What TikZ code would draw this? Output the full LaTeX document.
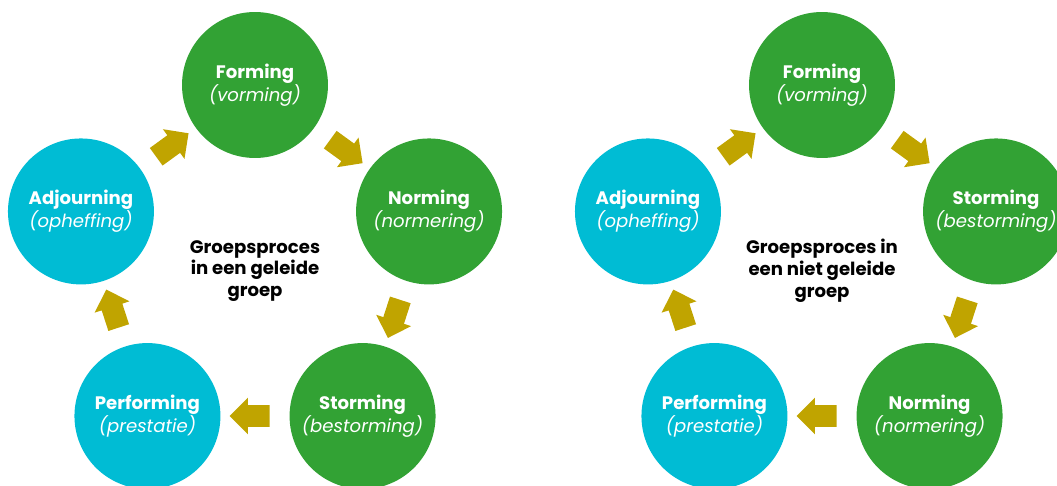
\documentclass[tikz,border=0pt]{standalone}
\usepackage{fontspec}
\setmainfont{Poppins}
\usepackage{tikz}
\usetikzlibrary{calc, shapes.arrows}
\definecolor{phasegreen}{RGB}{50,162,52}
\definecolor{phasecyan}{RGB}{0,188,212}
\definecolor{arrowgold}{RGB}{192,164,0}
\def\rad{183}

\begin{document}
\begin{tikzpicture}[x=0.02cm, y=0.02cm,
	phase/.style={circle, minimum size=2.92cm, inner sep=0pt, text=white, align=center, font=\fontsize{10.3}{13}\selectfont},
	green phase/.style={phase, fill=phasegreen},
	cyan phase/.style={phase, fill=phasecyan},
	flow/.style={single arrow, fill=arrowgold, draw=none, inner xsep=0pt, inner ysep=0.21cm, minimum height=0.8cm, single arrow head extend=0.15cm},
	title/.style={align=center, font=\fontsize{10.3}{12.4}\selectfont\bfseries}]

	\useasboundingbox (0,0) rectangle (1057,486);

	% geleide groep
	\coordinate (L) at (255,218);
	\node[green phase] (lform)  at ($(L)+(90:\rad)$)   {\textbf{Forming}\\\textit{(vorming)}};
	\node[green phase] (lnorm)  at ($(L)+(18:\rad)$)   {\textbf{Norming}\\\textit{(normering)}};
	\node[green phase] (lstorm) at ($(L)+(-54:\rad)$)  {\textbf{Storming}\\\textit{(bestorming)}};
	\node[cyan phase]  (lperf)  at ($(L)+(-126:\rad)$) {\textbf{Performing}\\\textit{(prestatie)}};
	\node[cyan phase]  (ladj)   at ($(L)+(162:\rad)$)  {\textbf{Adjourning}\\\textit{(opheffing)}};
	\node[title] (ltitle) at ($(L)+(0,-3)$) {Groepsproces\\in een geleide\\groep};

	\node[flow, rotate=36]   (la1) at ($(ladj)!0.5!(lform)$)   {};
	\node[flow, rotate=-36]  (la2) at ($(lform)!0.5!(lnorm)$)  {};
	\node[flow, rotate=-108] (la3) at ($(lnorm)!0.5!(lstorm)$) {};
	\node[flow, rotate=180]  (la4) at ($(lstorm)!0.5!(lperf)$) {};
	\node[flow, rotate=108]  (la5) at ($(lperf)!0.5!(ladj)$)   {};

	% niet geleide groep
	\coordinate (R) at (822,218);
	\node[green phase] (rform)  at ($(R)+(90:\rad)$)   {\textbf{Forming}\\\textit{(vorming)}};
	\node[green phase] (rstorm) at ($(R)+(18:\rad)$)   {\textbf{Storming}\\\textit{(bestorming)}};
	\node[green phase] (rnorm)  at ($(R)+(-54:\rad)$)  {\textbf{Norming}\\\textit{(normering)}};
	\node[cyan phase]  (rperf)  at ($(R)+(-126:\rad)$) {\textbf{Performing}\\\textit{(prestatie)}};
	\node[cyan phase]  (radj)   at ($(R)+(162:\rad)$)  {\textbf{Adjourning}\\\textit{(opheffing)}};
	\node[title] (rtitle) at ($(R)+(0,-3)$) {Groepsproces in\\een niet geleide\\groep};

	\node[flow, rotate=36]   (ra1) at ($(radj)!0.5!(rform)$)   {};
	\node[flow, rotate=-36]  (ra2) at ($(rform)!0.5!(rstorm)$) {};
	\node[flow, rotate=-108] (ra3) at ($(rstorm)!0.5!(rnorm)$) {};
	\node[flow, rotate=180]  (ra4) at ($(rnorm)!0.5!(rperf)$)  {};
	\node[flow, rotate=108]  (ra5) at ($(rperf)!0.5!(radj)$)   {};

\end{tikzpicture}
\end{document}
